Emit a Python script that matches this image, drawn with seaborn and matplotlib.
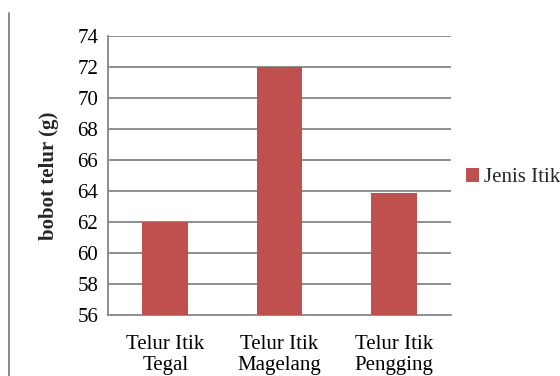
import matplotlib
matplotlib.use("Agg")
import matplotlib.pyplot as plt
import seaborn as sns
import pandas as pd
from matplotlib.lines import Line2D

categories = ["Telur Itik\nTegal", "Telur Itik\nMagelang", "Telur Itik\nPengging"]
values = [62.0, 72.0, 63.9]
series_name = "Jenis Itik"
y_ticks = [56, 58, 60, 62, 64, 66, 68, 70, 72, 74]

sns.set_theme(style="white")
plt.rcParams['font.family'] = ['Liberation Serif', 'DejaVu Serif']

df = pd.DataFrame({"cat": categories, "val": values})

fig = plt.figure(figsize=(5.6, 3.76), dpi=100)
ax = fig.add_axes([0.193, 0.162, 0.612, 0.742])
grid_c = "#868686"
sns.barplot(data=df, x="cat", y="val", color="#C0504D", width=0.4,
            saturation=1, label=series_name, ax=ax, zorder=3, linewidth=0)
ax.set_ylim(56, 74)
ax.set_yticks(y_ticks)
ax.set_xlim(-0.5, 2.5)
for y in y_ticks[1:]:
    ax.axhline(y, color=grid_c, lw=1.3, zorder=1)
for s in ["top", "right"]:
    ax.spines[s].set_visible(False)
for s in ["left", "bottom"]:
    ax.spines[s].set_color(grid_c)
    ax.spines[s].set_linewidth(1.3)
ax.tick_params(axis="both", length=0, labelsize=15, colors="black")
ax.tick_params(axis="y", pad=7)
ax.tick_params(axis="x", pad=14)
for t in ax.get_xticklabels():
    t.set_linespacing(1.2)
ax.set_xlabel("")
ax.set_ylabel("bobot telur (g)", fontsize=15, fontweight="bold", labelpad=13)
ax.legend(loc="center left", bbox_to_anchor=(0.833, 0.527), bbox_transform=fig.transFigure,
          frameon=False, fontsize=15, handlelength=0.62, handleheight=0.62,
          handletextpad=0.2, borderaxespad=0, borderpad=0)
fig.add_artist(Line2D([9/560, 9/560], [0, 1 - 13/376], transform=fig.transFigure,
                      color="#808080", lw=1.3))
fig.savefig("out.png", dpi=100)
